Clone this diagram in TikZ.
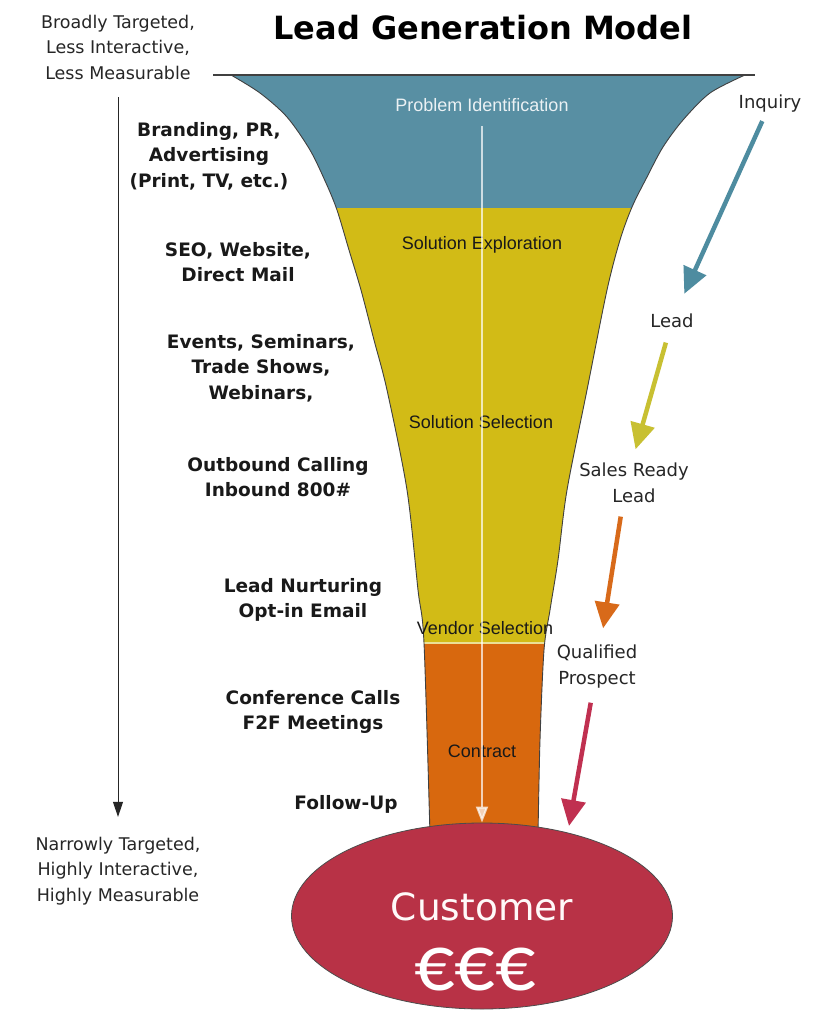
\documentclass[tikz,border=0pt]{standalone}
\usepackage{fontspec}
\setmainfont{DejaVu Sans}
\newfontfamily\stagefont{Liberation Sans}
\newfontfamily\moneyfont{Carlito}
\usetikzlibrary{arrows.meta,shapes.geometric,calc}

\definecolor{stageblue}{RGB}{88,143,163}
\definecolor{stageyellow}{RGB}{210,187,22}
\definecolor{stageorange}{RGB}{216,104,14}
\definecolor{custred}{RGB}{184,50,70}
\definecolor{arrowblue}{RGB}{78,140,160}
\definecolor{arrowyellow}{RGB}{200,192,50}
\definecolor{arroworange}{RGB}{216,106,26}
\definecolor{arrowred}{RGB}{192,48,80}
\definecolor{inktext}{RGB}{25,25,25}

\tikzset{
  channel/.style={font=\bfseries\fontsize{18.5}{25.5}\selectfont, align=center, text=inktext, inner sep=0pt},
  reach/.style={font=\fontsize{17.5}{25.5}\selectfont, align=center, text=black!85, inner sep=0pt},
  status/.style={font=\fontsize{18}{26}\selectfont, align=center, text=black!85, inner sep=0pt},
  stagelabel/.style={font=\stagefont\fontsize{18}{20}\selectfont, inner sep=0pt, text=black!90},
  flow/.style={line width=4.5pt, -{Triangle[length=26pt,width=24pt]}},
}

\begin{document}
\begin{tikzpicture}[x=1pt,y=-1pt]
\useasboundingbox[fill=white] (0,0) rectangle (825,1010);

% funnel bands, clipped to the funnel outline
\begin{scope}
  \clip plot[smooth,tension=0.5] coordinates {(231,75) (260,93) (287,117) (310,150) (326,183) (337,210) (349,250) (361,290) (374,340) (387,390) (407,490) (418,590) (424,643) (430,835)}
     -- plot[smooth,tension=0.5] coordinates {(538,835) (540,740) (544,650) (550,610) (558,560) (567,490) (587,390) (607,290) (620,240) (632,207) (647,177) (663,147) (683,120) (710,93) (745,75)} -- cycle;
  \fill[stageblue] (0,70) rectangle (825,208);
  \fill[stageyellow] (0,208) rectangle (825,643);
  \fill[stageorange] (0,643) rectangle (825,840);
  \draw[white!55!stageyellow, line width=1.2pt] (0,643) -- (825,643);
\end{scope}

% funnel side edges and rim
\draw[black!75, line width=0.9pt] plot[smooth,tension=0.5] coordinates {(231,75) (260,93) (287,117) (310,150) (326,183) (337,210) (349,250) (361,290) (374,340) (387,390) (407,490) (418,590) (424,643) (430,835)};
\draw[black!75, line width=0.9pt] plot[smooth,tension=0.5] coordinates {(538,835) (540,740) (544,650) (550,610) (558,560) (567,490) (587,390) (607,290) (620,240) (632,207) (647,177) (663,147) (683,120) (710,93) (745,75)};
\draw[black!75, line width=1.6pt] (213,75) -- (755,75);

% title
\node[font=\bfseries\fontsize{32}{38}\selectfont, inner sep=0pt] (title) at (483,28) {Lead Generation Model};

% reach scale on the left
\node[reach] (broad) at (118,47) {Broadly Targeted,\\Less Interactive,\\Less Measurable};
\node[reach] (narrow) at (118,871) {Narrowly Targeted,\\Highly Interactive,\\Highly Measurable};
\draw[line width=1pt, black!85, -{Triangle[length=15pt,width=10pt]}, shorten <=18pt, shorten >=20pt] (broad) -- (narrow);

% marketing channels
\node[channel] (ch1) at (209,156) {Branding, PR,\\Advertising\\(Print, TV, etc.)};
\node[channel] (ch2) at (238,262) {SEO, Website,\\Direct Mail};
\node[channel] (ch3) at (261,368) {Events, Seminars,\\Trade Shows,\\Webinars,};
\node[channel] (ch4) at (278,477) {Outbound Calling\\Inbound 800\#};
\node[channel] (ch5) at (303,600) {Lead Nurturing\\Opt-in Email};
\node[channel] (ch6) at (313,712) {Conference Calls\\F2F Meetings};
\node[channel] (ch7) at (346,804) {Follow-Up};

% buying stages inside the funnel
\node[stagelabel, text=white!88!stageblue] (pi) at (482,105) {Problem Identification};
\node[stagelabel] (se) at (482,245) {Solution Exploration};
\node[stagelabel] (ss) at (481,422) {Solution Selection};
\node[stagelabel] (vs) at (485,628) {Vendor Selection};
\node[stagelabel] (ct) at (482,751) {Contract};

% customer
\node[ellipse, draw=black!70, line width=0.8pt, fill=custred, minimum width=381pt, minimum height=186pt, inner sep=0pt] (cust) at (482,916) {};
\node[font=\fontsize{37.5}{40}\selectfont, text=white!90!pink, inner sep=0pt] (custlabel) at (482,907) {Customer};
\node[font=\moneyfont\fontsize{80}{80}\selectfont, text=white, inner sep=0pt] (money) at (475,970) {€€€};

% centre line through the funnel
\draw[white, opacity=0.7, line width=2pt, -{Triangle[length=16pt,width=12pt,fill=white]}, shorten <=14pt] (pi) -- (cust.north);

% lead status on the right
\node[status] (inq) at (770,104) {Inquiry};
\node[status] (lead) at (672,321) {Lead};
\node[status] (srl) at (634,483) {Sales Ready\\Lead};
\node[status] (qp) at (597,667) {Qualified\\Prospect};
\coordinate (qtip) at (569,826);

\draw[flow, arrowblue, shorten <=9pt, shorten >=22pt] (inq) -- (lead);
\draw[flow, arrowyellow, shorten <=15pt, shorten >=35pt] (lead) -- ($(srl)+(-8,0)$);
\draw[flow, arroworange, shorten <=34pt, shorten >=17pt] ($(srl)+(-8,0)$) -- (qp);
\draw[flow, arrowred, shorten <=14pt] (qp) -- (qtip);
\end{tikzpicture}
\end{document}
